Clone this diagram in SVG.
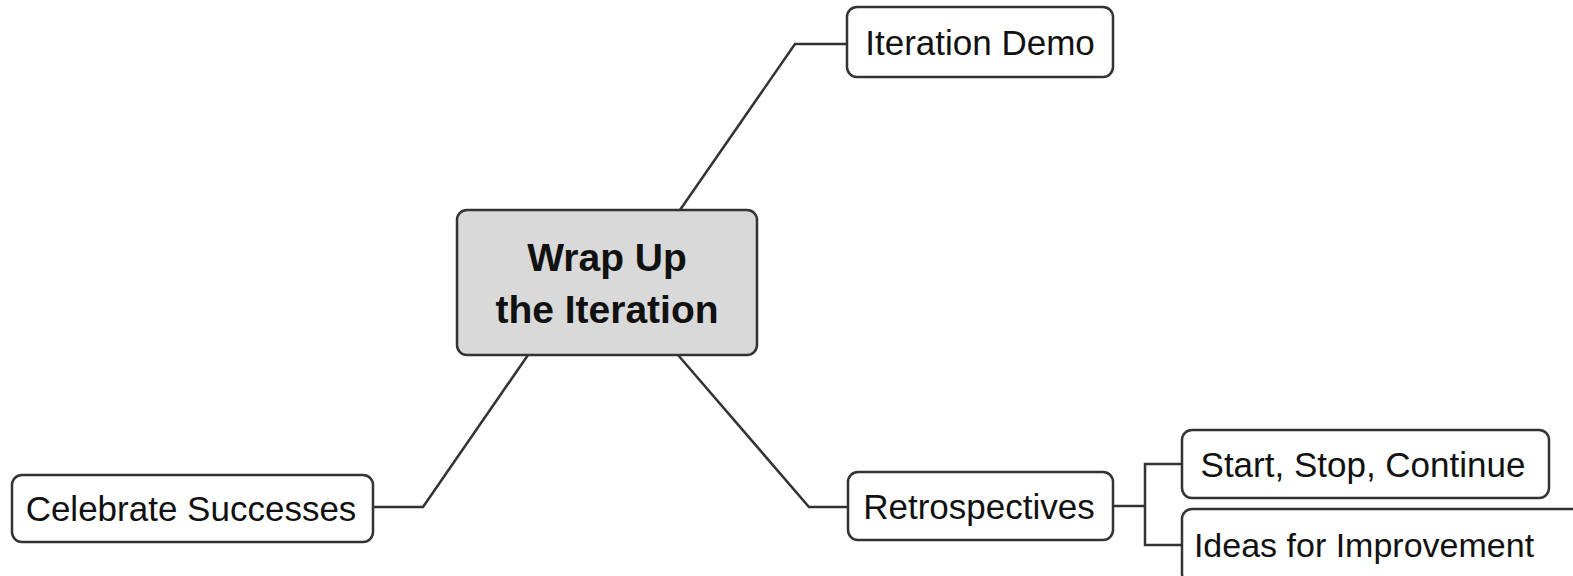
<svg xmlns="http://www.w3.org/2000/svg" width="1573" height="576" viewBox="0 0 1573 576">
<style>
.box{fill:#ffffff;stroke:#333333;stroke-width:2.5}
.main{fill:#d9d9d9;stroke:#333333;stroke-width:2.5}
.lbl{font-family:"Liberation Sans",Arial,sans-serif;font-size:35px;fill:#111111;text-anchor:middle}
.title{font-family:"Liberation Sans",Arial,sans-serif;font-size:39px;font-weight:bold;fill:#111111;text-anchor:middle}
.conn{fill:none;stroke:#333333;stroke-width:2.5;stroke-linejoin:miter}
</style>
<rect width="1573" height="576" fill="#ffffff"/>
<g id="connectors">
<polyline class="conn" points="680,210 795,44 847,44"/>
<polyline class="conn" points="528,355 423,507 373,507"/>
<polyline class="conn" points="678,355 809,507 847,507"/>
<polyline class="conn" points="1113,506 1145,506"/>
<polyline class="conn" points="1182,464 1145,464 1145,545 1182,545"/>
</g>
<g id="central">
<rect class="main" x="457" y="210" width="300" height="145" rx="10"/>
<text class="title" x="607" y="271">Wrap Up</text>
<text class="title" x="607" y="323">the Iteration</text>
</g>
<g id="iteration-demo">
<rect class="box" x="847" y="7" width="266" height="70" rx="10"/>
<text class="lbl" x="980" y="55">Iteration Demo</text>
</g>
<g id="celebrate">
<rect class="box" x="12" y="475" width="361" height="67" rx="10"/>
<text class="lbl" x="191" y="521">Celebrate Successes</text>
</g>
<g id="retrospectives">
<rect class="box" x="848" y="472" width="265" height="68" rx="10"/>
<text class="lbl" x="979" y="519">Retrospectives</text>
</g>
<g id="start-stop">
<rect class="box" x="1182" y="430" width="367" height="68" rx="10"/>
<text class="lbl" x="1363" y="477">Start, Stop, Continue</text>
</g>
<g id="ideas">
<rect class="box" x="1182" y="509" width="400" height="75" rx="10"/>
<text class="lbl" x="1364" y="557" style="font-size:34px">Ideas for Improvement</text>
</g>
</svg>
